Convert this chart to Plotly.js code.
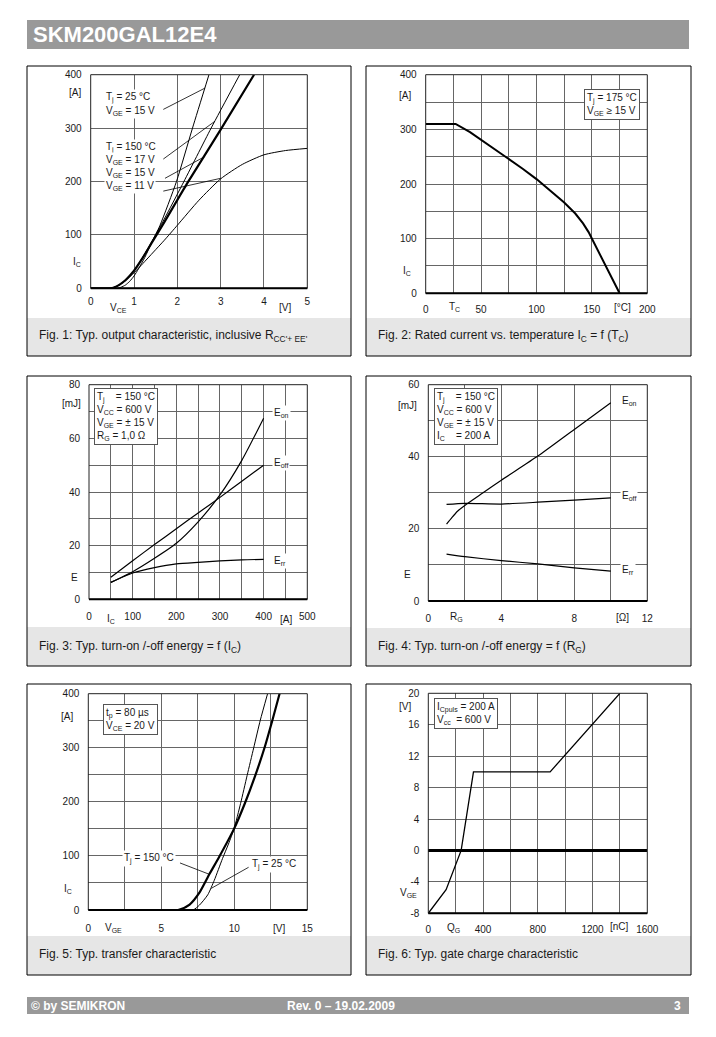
<!DOCTYPE html>
<html>
<head>
<meta charset="utf-8">
<script src="https://cdn.plot.ly/plotly-3.0.1.min.js"></script>
<style>
html,body{margin:0;padding:0;background:#fff;}
#chart{width:716px;height:1037px;}
</style>
</head>
<body>
<div id="chart"></div>
<script>
// ================= DATA =================
// Fig. 1: output characteristic  (V_CE [V] -> I_C [A])
const fig1_Tj25_VGE15_V  = [0, 0.6, 0.7, 0.8, 0.9, 1.0, 1.1, 1.25, 1.4, 1.6, 1.98, 2.35, 2.73];
const fig1_Tj25_VGE15_I  = [0, 0, 2, 6, 13, 23, 36, 58, 84, 118, 200, 300, 400];
const fig1_Tj150_VGE17_V = [0, 0.45, 0.55, 0.65, 0.8, 1.0, 1.2, 1.4, 1.7, 2.12, 2.78, 3.44];
const fig1_Tj150_VGE17_I = [0, 0, 2, 6, 15, 33, 58, 86, 130, 195, 300, 400];
const fig1_Tj150_VGE15_V = [0, 0.45, 0.55, 0.65, 0.8, 1.0, 1.2, 1.4, 1.7, 2.23, 3.0, 3.77];
const fig1_Tj150_VGE15_I = [0, 0, 2, 6, 15, 33, 57, 84, 124, 197, 297, 400];
const fig1_Tj150_VGE11_V = [0, 0.45, 0.55, 0.65, 0.8, 1.0, 1.2, 1.45, 1.7, 2.0, 2.5, 3.0, 3.5, 4.0, 4.5, 5.0];
const fig1_Tj150_VGE11_I = [0, 0, 2, 6, 14, 29, 46, 68, 90, 118, 165, 205, 232, 250, 258, 262];
const fig1_xTicks = [0, 1, 2, 3, 4, 5];
const fig1_xTickText = ['0', '1', '2', '3', '4', '5'];
const fig1_xGrid = [];
const fig1_yTicks = [0, 100, 200, 300, 400];
const fig1_yTickText = ['0', '100', '200', '300', '400'];
const fig1_yGrid = [];

// Fig. 2: rated current vs. temperature (T_C [°C] -> I_C [A])
const fig2_TC = [0, 27, 40, 50, 62.5, 75, 87.5, 100, 112.5, 125, 135, 142, 147, 150, 160, 175];
const fig2_IC = [310, 310, 295, 281, 264, 247, 228, 209, 188, 166, 146, 128, 112, 100, 62, 0];
const fig2_xTicks = [0, 50, 100, 150, 200];
const fig2_xTickText = ['0', '50', '100', '150', '200'];
const fig2_xGrid = [25, 75, 125, 175];
const fig2_yTicks = [0, 100, 200, 300, 400];
const fig2_yTickText = ['0', '100', '200', '300', '400'];
const fig2_yGrid = [50, 150, 250, 350];

// Fig. 3: switching energy vs. I_C  (I_C [A] -> E [mJ])
const fig3_IC   = [50, 100, 150, 200, 250, 300, 350, 400];
const fig3_Eon  = [6.3, 10.3, 15.3, 20.9, 28.9, 38.9, 51.8, 67.5];
const fig3_Eoff = [8.2, 14.4, 20.4, 26.3, 32.2, 38.0, 44.0, 50.0];
const fig3_Err  = [6.3, 9.8, 11.8, 13.2, 13.8, 14.3, 14.7, 14.9];
const fig3_xTicks = [0, 100, 200, 300, 400, 500];
const fig3_xTickText = ['0', '100', '200', '300', '400', '500'];
const fig3_xGrid = [50, 150, 250, 350, 450];
const fig3_yTicks = [0, 20, 40, 60, 80];
const fig3_yTickText = ['0', '20', '40', '60', '80'];
const fig3_yGrid = [10, 30, 50, 70];

// Fig. 4: switching energy vs. R_G  (R_G [Ohm] -> E [mJ])
const fig4_RG_on = [1, 1.3, 1.6, 2, 3, 4, 6, 8, 10];
const fig4_Eon   = [21.3, 23.2, 24.9, 26.5, 30.0, 33.5, 40.2, 47.6, 55.0];
const fig4_RG    = [1, 2, 4, 6, 8, 10];
const fig4_Eoff  = [26.8, 27.1, 26.9, 27.4, 28.0, 28.6];
const fig4_Err   = [13.0, 12.3, 11.2, 10.3, 9.2, 8.3];
const fig4_xTicks = [0, 4, 8, 12];
const fig4_xTickText = ['0', '4', '8', '12'];
const fig4_xGrid = [2, 6, 10];
const fig4_yTicks = [0, 20, 40, 60];
const fig4_yTickText = ['0', '20', '40', '60'];
const fig4_yGrid = [10, 30, 50];

// Fig. 5: transfer characteristic (V_GE [V] -> I_C [A])
const fig5_Tj150_V = [0, 6.15, 6.94, 7.61, 8.29, 8.96, 9.98, 10.72, 11.44, 12.07, 12.6, 13.1];
const fig5_Tj150_I = [0, 0, 10, 32, 66, 98, 150, 197, 249, 300, 350, 400];
const fig5_Tj25_V  = [0, 7.16, 7.61, 8.18, 8.63, 9.19, 9.6, 9.98, 10.43, 10.88, 11.33, 11.78, 12.28];
const fig5_Tj25_I  = [0, 0, 9, 28, 55, 95, 122, 150, 197, 249, 300, 351, 400];
const fig5_xTicks = [0, 5, 10, 15];
const fig5_xTickText = ['0', '5', '10', '15'];
const fig5_xGrid = [2.5, 7.5, 12.5];
const fig5_yTicks = [0, 100, 200, 300, 400];
const fig5_yTickText = ['0', '100', '200', '300', '400'];
const fig5_yGrid = [50, 150, 250, 350];

// Fig. 6: gate charge (Q_G [nC] -> V_GE [V])
const fig6_QG  = [0, 130, 240, 330, 890, 1400];
const fig6_VGE = [-8, -5, 0, 10, 10, 20];
const fig6_xTicks = [0, 400, 800, 1200, 1600];
const fig6_xTickText = ['0', '400', '800', '1200', '1600'];
const fig6_xGrid = [200, 600, 1000, 1400];
const fig6_yTicks = [-8, -4, 0, 4, 8, 12, 16, 20];
const fig6_yTickText = ['-8', '-4', '0', '4', '8', '12', '16', '20'];
const fig6_yGrid = [];

// ================= LAYOUT =================
const W = 716, H = 1037;
const FONT = 'Liberation Sans, Arial, Helvetica, sans-serif';
const TXT = '#1a1a1a';
const GRID = '#666';
const px = v => v / W;
const py = v => 1 - v / H;

// page-pixel geometry of each panel
const geo = [
  {plot: [90.7, 74.7, 307.3, 288.3], frame: [27, 66, 351, 356], cap: 318, xlen: 4},
  {plot: [425.7, 74.7, 647.3, 293.3], frame: [366, 66, 691, 356], cap: 318, xlen: 7},
  {plot: [89, 384.7, 307.3, 599.3], frame: [27, 376, 351, 666], cap: 627, xlen: 8},
  {plot: [428.3, 384.7, 647.3, 601], frame: [366, 376, 691, 666], cap: 628, xlen: 8},
  {plot: [88.3, 693.7, 307.3, 910], frame: [27, 684, 351, 975], cap: 936, xlen: 9},
  {plot: [428.3, 693.3, 647.3, 913.3], frame: [366, 684, 691, 975], cap: 936, xlen: 7}
];

const common = {
  showgrid: true, gridcolor: GRID, gridwidth: 1, zeroline: false, showline: false,
  ticks: 'outside', tickcolor: 'rgba(0,0,0,0)',
  tickfont: {family: FONT, size: 10, color: TXT},
  fixedrange: true, automargin: false, layer: 'below traces', tickmode: 'array'
};
const sfx = i => (i === 0 ? '' : String(i + 1));
const minorGrid = vals => ({tickmode: 'array', tickvals: vals, showgrid: vals.length > 0,
  gridcolor: GRID, gridwidth: 1, ticks: ''});
function xax(i, range, vals, text, grid) {
  const g = geo[i].plot;
  return Object.assign({}, common, {domain: [px(g[0]), px(g[2])], range, tickvals: vals, ticktext: text,
    anchor: 'y' + sfx(i), ticklen: geo[i].xlen, minor: minorGrid(grid)});
}
function yax(i, range, vals, text, grid) {
  const g = geo[i].plot;
  return Object.assign({}, common, {domain: [py(g[3]), py(g[1])], range, tickvals: vals, ticktext: text,
    anchor: 'x' + sfx(i), ticklen: 6, minor: minorGrid(grid)});
}

const layout = {
  width: W, height: H, margin: {l: 0, r: 0, t: 0, b: 0},
  paper_bgcolor: '#fff', plot_bgcolor: 'rgba(0,0,0,0)', showlegend: false,
  font: {family: FONT, color: TXT},
  xaxis:  xax(0, [0, 5], fig1_xTicks, fig1_xTickText, fig1_xGrid),
  yaxis:  yax(0, [0, 400], fig1_yTicks, fig1_yTickText, fig1_yGrid),
  xaxis2: xax(1, [0, 200], fig2_xTicks, fig2_xTickText, fig2_xGrid),
  yaxis2: yax(1, [0, 400], fig2_yTicks, fig2_yTickText, fig2_yGrid),
  xaxis3: xax(2, [0, 500], fig3_xTicks, fig3_xTickText, fig3_xGrid),
  yaxis3: yax(2, [0, 80], fig3_yTicks, fig3_yTickText, fig3_yGrid),
  xaxis4: xax(3, [0, 12], fig4_xTicks, fig4_xTickText, fig4_xGrid),
  yaxis4: yax(3, [0, 60], fig4_yTicks, fig4_yTickText, fig4_yGrid),
  xaxis5: xax(4, [0, 15], fig5_xTicks, fig5_xTickText, fig5_xGrid),
  yaxis5: yax(4, [0, 400], fig5_yTicks, fig5_yTickText, fig5_yGrid),
  xaxis6: xax(5, [0, 1600], fig6_xTicks, fig6_xTickText, fig6_xGrid),
  yaxis6: Object.assign(yax(5, [-8, 20], fig6_yTicks, fig6_yTickText, fig6_yGrid),
    {zeroline: true, zerolinecolor: '#000', zerolinewidth: 2.5})
};

const shapes = [];
const rectP = (x0, y0, x1, y1, fill, line, layer) => ({type: 'rect', xref: 'paper', yref: 'paper',
  x0: px(x0), x1: px(x1), y0: py(y1), y1: py(y0), fillcolor: fill, line: line, layer: layer});
// header & footer bars
shapes.push(rectP(27, 20, 689, 49, '#999999', {width: 0}, 'below'));
shapes.push(rectP(27, 997, 689, 1014, '#999999', {width: 0}, 'below'));
geo.forEach(g => {
  const f = g.frame, p = g.plot;
  shapes.push(rectP(f[0], g.cap, f[2], f[3], '#e6e6e6', {width: 0}, 'below'));
  shapes.push(rectP(f[0], f[1], f[2], f[3], 'rgba(0,0,0,0)', {color: '#000', width: 1}, 'above'));
  shapes.push(rectP(p[0], p[1], p[2], p[3], 'rgba(0,0,0,0)', {color: '#222', width: 1}, 'above'));
  shapes.push({type: 'line', xref: 'paper', yref: 'paper', x0: px(p[0]), x1: px(p[2]), y0: py(p[3]), y1: py(p[3]),
    line: {color: '#000', width: 2}, layer: 'above'});
});
// leader lines (label pointers)
const lead = (ax, x0, y0, x1, y1) => ({type: 'line', xref: 'x' + ax, yref: 'y' + ax, x0, y0, x1, y1,
  line: {color: '#000', width: 0.8}, layer: 'above'});
shapes.push(lead('', 1.676, 335, 2.64, 375));
shapes.push(lead('', 1.676, 242, 2.87, 313));
shapes.push(lead('', 1.715, 206, 2.64, 247));
shapes.push(lead('', 1.676, 182, 3.0, 206));
shapes.push(lead('5', 6.28, 87, 8.29, 66));
shapes.push(lead('5', 10.98, 79, 8.42, 40));
layout.shapes = shapes;

// annotations
const ann = [];
function T(x, y, text, xa, opts) {
  ann.push(Object.assign({xref: 'paper', yref: 'paper', x: px(x), y: py(y), text, showarrow: false,
    xanchor: xa || 'left', yanchor: 'middle', font: {family: FONT, size: 10, color: TXT}}, opts || {}));
}
function B(x, y, text) {
  ann.push({xref: 'paper', yref: 'paper', x: px(x), y: py(y), text, showarrow: false,
    xanchor: 'left', yanchor: 'top', align: 'left', bgcolor: '#fff', bordercolor: '#555', borderwidth: 1,
    borderpad: 2, font: {family: FONT, size: 10, color: TXT}});
}
const white = {bgcolor: '#fff'};
// header / footer
T(31, 34.5, '<b>SKM200GAL12E4</b>', 'left', {font: {family: FONT, size: 22, color: '#fff'}});
T(29, 1005.5, '<b>© by SEMIKRON</b>', 'left', {font: {family: FONT, size: 12, color: '#fff'}});
T(285, 1005.5, '<b>Rev. 0 – 19.02.2009</b>', 'left', {font: {family: FONT, size: 12, color: '#fff'}});
T(683, 1005.5, '<b>3</b>', 'right', {font: {family: FONT, size: 12, color: '#fff'}});
// captions
const capFont = {font: {family: FONT, size: 12, color: TXT}};
T(37, 336, "Fig. 1: Typ. output characteristic, inclusive R<sub>CC'+ EE'</sub>", 'left', capFont);
T(376, 336, 'Fig. 2: Rated current vs. temperature I<sub>C</sub> = f (T<sub>C</sub>)', 'left', capFont);
T(37, 646.5, 'Fig. 3: Typ. turn-on /-off energy = f (I<sub>C</sub>)', 'left', capFont);
T(376, 646.5, 'Fig. 4: Typ. turn-on /-off energy = f (R<sub>G</sub>)', 'left', capFont);
T(37, 954, 'Fig. 5: Typ. transfer characteristic', 'left', capFont);
T(376, 954, 'Fig. 6: Typ. gate charge characteristic', 'left', capFont);
// Fig. 1 axis labels & curve labels
T(83, 93, '[A]', 'right'); T(83, 262, 'I<sub>C</sub>', 'right');
T(107.5, 308, 'V<sub>CE</sub>', 'left'); T(285, 308, '[V]', 'center');
T(104, 98, 'T<sub>j</sub> = 25 °C', 'left', white);
T(104, 110.5, 'V<sub>GE</sub> = 15 V', 'left', white);
T(104, 147.5, 'T<sub>j</sub> = 150 °C', 'left', white);
T(104, 160, 'V<sub>GE</sub> = 17 V', 'left', white);
T(104, 173, 'V<sub>GE</sub> = 15 V', 'left', white);
T(104, 186.5, 'V<sub>GE</sub> = 11 V', 'left', white);
// Fig. 2
T(413, 96, '[A]', 'right'); T(413, 270.5, 'I<sub>C</sub>', 'right');
T(446.5, 307, 'T<sub>C</sub>', 'left'); T(622.5, 308, '[°C]', 'center');
B(583.5, 88.5, 'T<sub>j</sub> = 175 °C<br>V<sub>GE</sub> ≥ 15 V');
// Fig. 3
T(83, 403, '[mJ]', 'right'); T(80, 577, 'E', 'right');
T(105, 619, 'I<sub>C</sub>', 'left'); T(286, 619, '[A]', 'center');
B(94, 387.5, 'T<sub>j</sub>\u00a0\u00a0\u00a0\u00a0= 150 °C<br>V<sub>CC</sub> = 600 V<br>V<sub>GE</sub> = ± 15 V<br>R<sub>G</sub> = 1,0 Ω');
T(272, 413, 'E<sub>on</sub>', 'left', white);
T(272, 463, 'E<sub>off</sub>', 'left', white);
T(272, 561, 'E<sub>rr</sub>', 'left', white);
// Fig. 4
T(419, 405, '[mJ]', 'right'); T(413, 574, 'E', 'right');
T(448, 617, 'R<sub>G</sub>', 'left'); T(622, 617, '[Ω]', 'center');
B(433.5, 387.5, 'T<sub>j</sub>\u00a0\u00a0\u00a0\u00a0= 150 °C<br>V<sub>CC</sub> = 600 V<br>V<sub>GE</sub> = ± 15 V<br>I<sub>C</sub>\u00a0\u00a0\u00a0\u00a0= 200 A');
T(620, 401, 'E<sub>on</sub>', 'left', white);
T(620, 496, 'E<sub>off</sub>', 'left', white);
T(620, 570, 'E<sub>rr</sub>', 'left', white);
// Fig. 5
T(75, 716, '[A]', 'right'); T(74, 889, 'I<sub>C</sub>', 'right');
T(103, 928, 'V<sub>GE</sub>', 'left'); T(279, 928, '[V]', 'center');
B(102.5, 703.5, 't<sub>p</sub> = 80 µs<br>V<sub>CE</sub> = 20 V');
T(121.5, 858.5, 'T<sub>j</sub> = 150 °C', 'left', white);
T(250, 864, 'T<sub>j</sub> = 25 °C', 'left', white);
// Fig. 6
T(413, 706, '[V]', 'right'); T(419, 893, 'V<sub>GE</sub>', 'right');
T(445, 928, 'Q<sub>G</sub>', 'left'); T(619, 926.5, '[nC]', 'center');
B(433.5, 697.5, 'I<sub>Cpuls</sub> = 200 A<br>V<sub>cc</sub>\u00a0\u00a0= 600 V');
layout.annotations = ann;

// ================= TRACES =================
const ln = (x, y, ax, width, shape) => ({x, y, xaxis: 'x' + ax, yaxis: 'y' + ax, type: 'scatter', mode: 'lines',
  hoverinfo: 'skip', line: {color: '#000', width, shape: shape || 'spline', smoothing: 0.6}});
const data = [
  ln(fig1_Tj25_VGE15_V, fig1_Tj25_VGE15_I, '', 1),
  ln(fig1_Tj150_VGE17_V, fig1_Tj150_VGE17_I, '', 1),
  ln(fig1_Tj150_VGE11_V, fig1_Tj150_VGE11_I, '', 1),
  ln(fig1_Tj150_VGE15_V, fig1_Tj150_VGE15_I, '', 2.2),
  ln(fig2_TC, fig2_IC, '2', 2, 'linear'),
  ln(fig3_IC, fig3_Eon, '3', 1.2),
  ln(fig3_IC, fig3_Eoff, '3', 1.2),
  ln(fig3_IC, fig3_Err, '3', 1.2),
  ln(fig4_RG_on, fig4_Eon, '4', 1.2),
  ln(fig4_RG, fig4_Eoff, '4', 1.2),
  ln(fig4_RG, fig4_Err, '4', 1.2),
  ln(fig5_Tj25_V, fig5_Tj25_I, '5', 1),
  ln(fig5_Tj150_V, fig5_Tj150_I, '5', 2.2),
  ln(fig6_QG, fig6_VGE, '6', 1.3, 'linear')
];

Plotly.newPlot('chart', data, layout, {displayModeBar: false, staticPlot: true});
</script>
</body>
</html>
